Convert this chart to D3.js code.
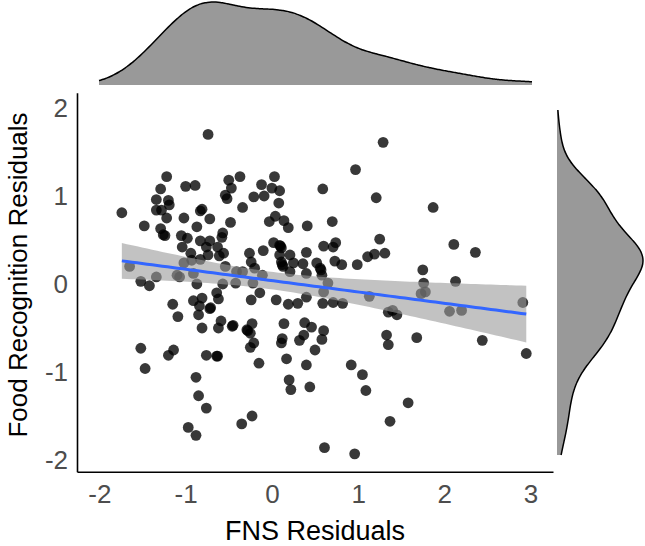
<!DOCTYPE html>
<html><head><meta charset="utf-8">
<script src="https://cdn.jsdelivr.net/npm/d3@7"></script>
<style>body{margin:0;background:#fff} svg{display:block}</style>
</head><body>
<svg id="c" width="645" height="546"></svg>
<script>
const xTicks = [-2, -1, 0, 1, 2, 3];
const yTicks = [-2, -1, 0, 1, 2];
const xTitle = "FNS Residuals";
const yTitle = "Food Recognition Residuals";
const xLimits = [-2, 3];
const yLimits = [-2, 2];

const fnsResiduals = [
-0.74,-1.22,-0.37,0.03,-1.00,-0.89,-0.50,-0.47,-1.29,-0.12,
0.00,0.09,0.59,-0.54,-0.52,-0.21,-0.09,-1.34,-1.20,-1.19,
0.08,-1.74,-1.34,-1.28,-0.34,-0.83,-0.81,-1.22,-1.02,-0.72,
0.04,-0.48,-0.03,0.14,0.19,-1.48,-0.87,0.41,-1.29,-1.26,
-1.24,-0.57,-1.05,-0.98,-0.58,-0.83,-0.72,0.02,0.09,-1.04,
-0.76,-0.63,0.11,-0.10,0.40,0.60,-0.26,-0.94,-0.56,-0.74,
-0.61,0.09,0.21,-0.93,-0.83,-0.24,0.11,0.25,0.36,0.52,
-1.02,-1.65,-0.54,-0.20,0.13,0.56,0.21,0.40,-1.34,-1.10,
-1.07,-0.91,-0.41,-0.34,-0.11,0.58,-1.52,-1.42,-0.87,-0.57,
-0.42,-0.22,-0.14,-0.64,-1.15,-0.91,-0.81,-0.62,-0.84,-0.72,
-0.24,0.05,0.19,0.30,0.40,0.59,0.60,-1.09,-0.85,-0.81,
-0.62,-0.59,-0.45,-0.29,-0.23,-0.25,0.14,0.38,0.46,0.60,
-1.52,-1.20,-1.14,-0.76,-0.64,-0.21,-0.25,0.12,0.11,0.32,
0.37,0.58,0.50,-0.15,0.17,0.40,-1.47,-0.88,0.20,0.22,
0.44,-0.85,-0.76,-0.23,-0.35,-0.97,-0.88,0.61,
1.29,0.97,1.21,1.87,0.70,0.74,0.71,1.25,1.31,1.19,
1.11,0.73,0.81,0.99,2.11,2.36,1.75,1.76,2.13,0.65,
1.78,1.73,1.13,0.71,0.82,2.91,1.35,1.40,1.45,2.06,
2.20,1.33,1.35,1.68,2.44,2.95,0.92,1.05,1.09,1.58,
1.37,0.96,
-0.71,-0.46,-0.28,-0.63,0.10,0.12,0.57
];
const foodRecognitionResiduals = [
1.70,1.22,1.22,1.22,1.11,1.12,1.18,1.09,1.08,1.13,
1.09,1.06,1.08,1.01,0.97,0.99,1.00,0.96,0.95,0.90,
0.92,0.81,0.84,0.84,0.87,0.83,0.85,0.75,0.75,0.74,
0.77,0.70,0.71,0.72,0.64,0.66,0.65,0.66,0.63,0.56,
0.55,0.58,0.55,0.52,0.53,0.49,0.49,0.47,0.44,0.42,
0.42,0.42,0.41,0.38,0.36,0.43,0.35,0.35,0.35,0.33,
0.32,0.33,0.33,0.27,0.28,0.25,0.25,0.24,0.23,0.24,
0.24,0.20,0.20,0.18,0.20,0.18,0.14,0.12,0.08,0.10,
0.08,0.12,0.14,0.14,0.10,0.10,0.03,-0.02,0.00,0.00,
0.01,0.01,-0.10,-0.10,-0.23,-0.19,-0.16,-0.17,-0.25,-0.28,
-0.18,-0.18,-0.23,-0.22,-0.15,-0.22,-0.09,-0.37,-0.35,-0.50,
-0.50,-0.42,-0.47,-0.52,-0.45,-0.56,-0.45,-0.44,-0.49,-0.53,
-0.73,-0.81,-0.75,-0.81,-0.82,-0.67,-0.72,-0.62,-0.67,-0.64,
-0.58,-0.63,-0.75,-0.90,-0.85,-0.92,-0.96,-1.06,-1.09,-1.20,
-1.17,-1.27,-1.41,-1.50,-1.59,-1.63,-1.72,-1.86,
1.61,1.30,0.98,0.87,0.71,0.47,0.42,0.51,0.35,0.34,
0.31,0.26,0.22,0.22,0.45,0.36,0.16,0.01,0.03,0.01,
-0.09,-0.11,-0.14,-0.21,-0.22,-0.21,-0.32,-0.30,-0.35,-0.31,
-0.30,-0.58,-0.69,-0.61,-0.64,-0.79,-0.92,-1.03,-1.21,-1.35,
-1.56,-1.93,
-0.27,-0.48,-0.53,-0.82,0.43,0.22,0.16
];

const data = fnsResiduals.map((x, i) => ({x, y: foodRecognitionResiduals[i]}));
const svg = d3.select("#c");
const FONT = "'Liberation Sans', Arial, Helvetica, sans-serif";

// main panel scales
const x = d3.scaleLinear().domain([-2.26, 3.26]).range([77, 553]);
const y = d3.scaleLinear().domain([-2.133, 2.174]).range([471.7, 92.7]);

// points
svg.append("g").selectAll("circle").data(data).join("circle")
  .attr("cx", d => x(d.x)).attr("cy", d => y(d.y)).attr("r", 5.4)
  .attr("fill", "#000").attr("fill-opacity", 0.78);

// linear regression with 95% CI
const n = data.length;
const mx = d3.mean(data, d => d.x), my = d3.mean(data, d => d.y);
const sxx = d3.sum(data, d => (d.x - mx) ** 2);
const sxy = d3.sum(data, d => (d.x - mx) * (d.y - my));
const b1 = sxy / sxx, b0 = my - b1 * mx;
const sse = d3.sum(data, d => (d.y - (b0 + b1 * d.x)) ** 2);
const s = Math.sqrt(sse / (n - 2));
const tq = 1.9725;
const [xmin, xmax] = d3.extent(data, d => d.x);
const grid = d3.range(0, 81).map(i => xmin + (xmax - xmin) * i / 80);
const fit = grid.map(g => {
  const yh = b0 + b1 * g;
  const se = s * Math.sqrt(1 / n + (g - mx) ** 2 / sxx);
  return {x: g, y: yh, lo: yh - tq * se, hi: yh + tq * se};
});
svg.append("path").datum(fit)
  .attr("d", d3.area().x(d => x(d.x)).y0(d => y(d.lo)).y1(d => y(d.hi)))
  .attr("fill", "#999").attr("fill-opacity", 0.6);
svg.append("path").datum(fit)
  .attr("d", d3.line().x(d => x(d.x)).y(d => y(d.y)))
  .attr("fill", "none").attr("stroke", "#3366FF").attr("stroke-width", 3);

// axes
const ax = svg.append("g").attr("transform", `translate(0,${y.range()[0]})`)
  .call(d3.axisBottom(x).tickValues(xTicks).tickSize(0).tickSizeOuter(0).tickPadding(13).tickFormat(d3.format("d")));
const ay = svg.append("g").attr("transform", `translate(${x.range()[0]},0)`)
  .call(d3.axisLeft(y).tickValues(yTicks).tickSize(0).tickSizeOuter(0).tickPadding(9).tickFormat(d3.format("d")));
[ax, ay].forEach(g => {
  g.select(".domain").attr("stroke", "#000").attr("stroke-width", 1.6);
  g.selectAll("text").attr("font-family", FONT).attr("font-size", 26).attr("fill", "#4d4d4d")
    .text(d => String(d));
});

svg.append("text").attr("x", 315).attr("y", 540).attr("text-anchor", "middle")
  .attr("font-family", FONT).attr("font-size", 27).attr("fill", "#000").text(xTitle);
svg.append("text").attr("transform", "translate(27,275) rotate(-90)").attr("text-anchor", "middle")
  .attr("font-family", FONT).attr("font-size", 26).attr("fill", "#000").text(yTitle);

// KDE (gaussian, bw.nrd0) evaluated over the axis limits
function bwNrd0(v) {
  const sd = d3.deviation(v);
  const sorted = v.slice().sort(d3.ascending);
  const iqr = d3.quantile(sorted, 0.75) - d3.quantile(sorted, 0.25);
  return 0.9 * Math.min(sd, iqr / 1.34) * Math.pow(v.length, -0.2);
}
function kde(v, lim) {
  const bw = bwNrd0(v);
  const [a, b] = lim;
  return d3.range(0, 201).map(i => {
    const g = a + (b - a) * i / 200;
    const dens = d3.mean(v, u => Math.exp(-0.5 * ((g - u) / bw) ** 2)) / (bw * Math.sqrt(2 * Math.PI));
    return {v: g, d: dens};
  });
}

// top marginal density
const dx = kde(fnsResiduals, xLimits);
const xm = d3.scaleLinear().domain(xLimits).range([99, 532]);
const hm = d3.scaleLinear().domain([0, d3.max(dx, d => d.d)]).range([85, 2]);
svg.append("path").datum(dx)
  .attr("d", d3.area().x(d => xm(d.v)).y0(hm(0)).y1(d => hm(d.d)).curve(d3.curveBasis))
  .attr("fill", "#999");
svg.append("path").datum(dx)
  .attr("d", d3.line().x(d => xm(d.v)).y(d => hm(d.d)).curve(d3.curveBasis))
  .attr("fill", "none").attr("stroke", "#000").attr("stroke-width", 1.5);

// right marginal density
const dy = kde(foodRecognitionResiduals, yLimits);
const ym = d3.scaleLinear().domain(yLimits).range([455, 110]);
const wm = d3.scaleLinear().domain([0, d3.max(dy, d => d.d)]).range([557, 643]);
svg.append("path").datum(dy)
  .attr("d", d3.area().y(d => ym(d.v)).x0(wm(0)).x1(d => wm(d.d)).curve(d3.curveBasis))
  .attr("fill", "#999");
svg.append("path").datum(dy)
  .attr("d", d3.line().y(d => ym(d.v)).x(d => wm(d.d)).curve(d3.curveBasis))
  .attr("fill", "none").attr("stroke", "#000").attr("stroke-width", 1.5);
</script>
</body></html>
